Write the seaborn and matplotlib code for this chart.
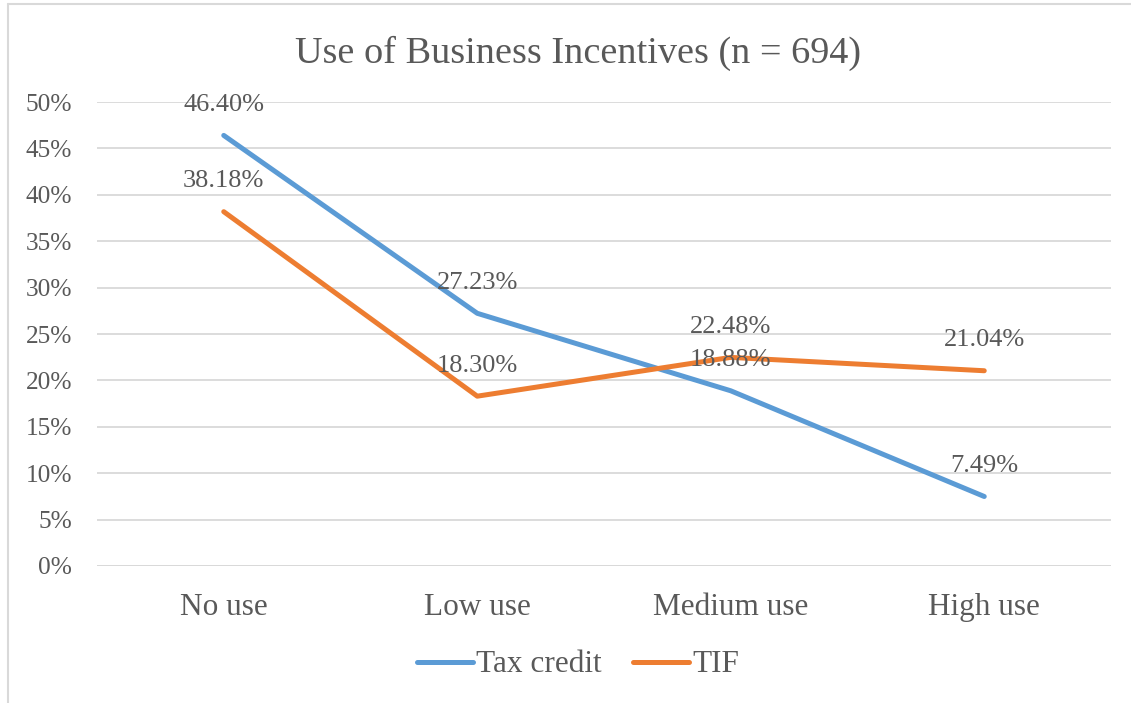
import matplotlib
matplotlib.use("Agg")
import matplotlib.pyplot as plt
import seaborn as sns
import pandas as pd
from matplotlib.lines import Line2D

categories = ["No use", "Low use", "Medium use", "High use"]
tax_credit = [46.40, 27.23, 18.88, 7.49]
tif = [38.18, 18.30, 22.48, 21.04]
series_names = ["Tax credit", "TIF"]
yticks = [0, 5, 10, 15, 20, 25, 30, 35, 40, 45, 50]
title = "Use of Business Incentives (n = 694)"

sns.set_theme(style="white")
plt.rcParams["font.family"] = ["Liberation Serif", "DejaVu Serif"]

colors = {"Tax credit": "#5B9BD5", "TIF": "#ED7D31"}
text_color = "#595959"

df = pd.DataFrame({
    "category": categories * 2,
    "x": list(range(len(categories))) * 2,
    "value": tax_credit + tif,
    "series": ["Tax credit"] * len(categories) + ["TIF"] * len(categories),
})

fig = plt.figure(figsize=(11.31, 7.03), dpi=100)
ax = fig.add_axes([97 / 1131, 1 - 566 / 703, (1111 - 97) / 1131, (566 - 102) / 703])

sns.lineplot(data=df, x="x", y="value", hue="series", palette=colors,
             linewidth=3.6, ax=ax, legend=False, sort=False,
             solid_capstyle="round", zorder=3)

ax.set_xlim(-0.5, len(categories) - 0.5)
ax.set_ylim(0, 50)
ax.set_yticks(yticks)
ax.set_yticklabels([f"{t}%" for t in yticks])
ax.set_xticks(range(len(categories)))
ax.set_xticklabels(categories)
ax.set_xlabel("")
ax.set_ylabel("")
ax.tick_params(axis="y", labelsize=18.3, colors=text_color, length=0, pad=18)
ax.tick_params(axis="x", labelsize=22.5, colors=text_color, length=0, pad=19.5)
ax.grid(axis="y", color="#D9D9D9", linewidth=1.3)
ax.grid(axis="x", visible=False)
for s in ax.spines.values():
    s.set_visible(False)
ax.axhline(0, color="#D9D9D9", linewidth=1.3, zorder=1)

for name, vals in zip(series_names, [tax_credit, tif]):
    for i, v in enumerate(vals):
        ax.annotate(f"{v:.2f}%", (i, v), xytext=(0, 22), textcoords="offset points",
                    ha="center", va="center", fontsize=19, color=text_color, zorder=4)

fig.text(0.511, 1 - 53 / 703, title, ha="center", va="center", fontsize=27.5, color=text_color)

handles = [Line2D([0], [0], color=colors[n], linewidth=3.6, solid_capstyle="round") for n in series_names]
fig.legend(handles, series_names, loc="center", bbox_to_anchor=(0.511, 1 - 665 / 703),
           ncol=2, frameon=False, fontsize=22.5, labelcolor=text_color,
           handlelength=1.8, handletextpad=0.1, columnspacing=1.0)

# chart frame (top and left edges visible)
fig.add_artist(Line2D([8 / 1131, 8 / 1131], [0, 1 - 4 / 703], transform=fig.transFigure, color="#D9D9D9", linewidth=1.5))
fig.add_artist(Line2D([8 / 1131, 1], [1 - 4 / 703, 1 - 4 / 703], transform=fig.transFigure, color="#D9D9D9", linewidth=1.5))

fig.savefig("out.png", dpi=100, facecolor="white")
